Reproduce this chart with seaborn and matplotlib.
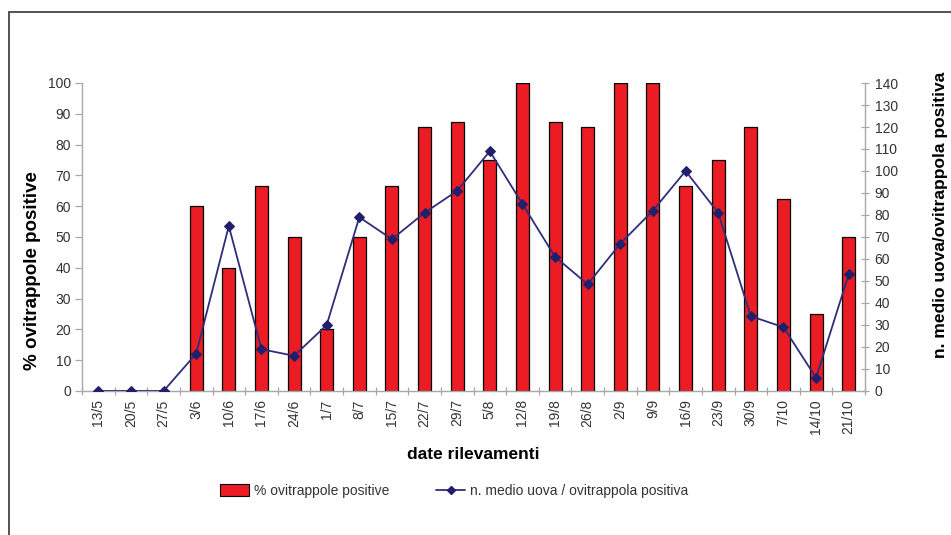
import numpy as np
import matplotlib
matplotlib.use("Agg")
import matplotlib.pyplot as plt
from matplotlib.lines import Line2D
from matplotlib.patches import Patch, Rectangle
import seaborn as sns
import pandas as pd

# Sampling dates (day/month)
dates = ["13/5", "20/5", "27/5", "3/6", "10/6", "17/6", "24/6", "1/7", "8/7",
         "15/7", "22/7", "29/7", "5/8", "12/8", "19/8", "26/8", "2/9", "9/9",
         "16/9", "23/9", "30/9", "7/10", "14/10", "21/10"]

# Percentage of positive ovitraps
pct_positive = [0, 0, 0, 60, 40, 66.7, 50, 20, 50, 66.7, 85.7, 87.5, 75, 100,
                87.5, 85.7, 100, 100, 66.7, 75, 85.7, 62.5, 25, 50]

# Mean number of eggs per positive ovitrap
mean_eggs = [0, 0, 0, 17, 75, 19, 16, 30, 79, 69, 81, 91, 109, 85, 61, 48.5,
             67, 82, 100, 81, 34, 29, 6, 53]

left_ticks = list(range(0, 101, 10))
right_ticks = list(range(0, 141, 10))

bar_color = "#EC1C24"
line_color = "#2E2E7A"
marker_color = "#1F1F6B"
axis_color = "#A8A8A8"
text_color = "#333333"

sns.set_theme(style="white")
plt.rcParams["font.family"] = ["Liberation Sans", "DejaVu Sans"]

fig = plt.figure(figsize=(9.51, 5.35), dpi=100)
fig.patch.set_facecolor("white")

# outer frame
fig.add_artist(Rectangle((9 / 951, -0.05), 1.1, 1 - 12 / 535 + 0.05,
                         transform=fig.transFigure, fill=False,
                         edgecolor="#444444", linewidth=1.3))

ax = fig.add_axes([82 / 951, 1 - 391 / 535, (865 - 82) / 951, (391 - 83) / 535])

df = pd.DataFrame({"data": dates, "pct": pct_positive, "uova": mean_eggs})

sns.barplot(data=df, x="data", y="pct", order=dates, ax=ax, color=bar_color,
            saturation=1, width=0.4, edgecolor="black", linewidth=0.9)

ax.set_ylim(0, 100)
ax.set_xlim(-0.5, len(dates) - 0.5)
ax.set_yticks(left_ticks)
ax.set_yticklabels([str(t) for t in left_ticks], fontsize=10, color=text_color)
ax.set_xticks(np.arange(len(dates)))
ax.set_xticklabels(dates, rotation=90, fontsize=10, color=text_color)
ax.tick_params(axis="x", length=0, pad=6)
ax.tick_params(axis="y", length=5, width=0.9, color=axis_color, direction="out", pad=3, left=True)
# ticks between categories on the x axis
ax.set_xticks(np.arange(len(dates) + 1) - 0.5, minor=True)
ax.tick_params(axis="x", which="minor", length=6, width=0.9, color=axis_color,
               direction="inout", bottom=True)

for side in ["top", "right"]:
    ax.spines[side].set_visible(False)
for side in ["left", "bottom"]:
    ax.spines[side].set_color(axis_color)
    ax.spines[side].set_linewidth(1.0)

ax.set_xlabel("date rilevamenti", fontsize=12.5, fontweight="bold", color="black", labelpad=9)
ax.set_ylabel("% ovitrappole positive", fontsize=13.5, fontweight="bold", color="black",
              labelpad=5, y=0.39)

ax2 = ax.twinx()
sns.lineplot(x=np.arange(len(dates)), y=mean_eggs, ax=ax2, color=line_color,
             linewidth=1.3, marker="D", markersize=5, markerfacecolor=marker_color,
             markeredgecolor=marker_color, sort=False)
ax2.set_ylim(0, 140)
ax2.set_yticks(right_ticks)
ax2.set_yticklabels([str(t) for t in right_ticks], fontsize=10, color=text_color)
ax2.tick_params(axis="y", length=6, width=0.9, color=axis_color, direction="inout", pad=4, right=True)
for side in ["top", "left", "bottom"]:
    ax2.spines[side].set_visible(False)
ax2.spines["right"].set_color(axis_color)
ax2.spines["right"].set_linewidth(1.0)
ax2.set_ylabel("n. medio uova/ovitrappola positiva", fontsize=12.5, fontweight="bold",
               color="black", labelpad=25, y=0.571)
ax.set_xlim(-0.5, len(dates) - 0.5)

handles = [
    Patch(facecolor=bar_color, edgecolor="black", linewidth=0.8, label="% ovitrappole positive"),
    Line2D([0], [0], color=line_color, linewidth=1.3, marker="D", markersize=4,
           markerfacecolor=marker_color, markeredgecolor=marker_color,
           label="n. medio uova / ovitrappola positiva"),
]
fig.legend(handles=handles, loc="center", bbox_to_anchor=(454 / 951, 1 - 491 / 535), ncol=2,
           frameon=False, fontsize=10, handlelength=2.1, handleheight=0.9,
           columnspacing=3.4, handletextpad=0.3, labelcolor=text_color)

fig.savefig("out.png", dpi=100, facecolor="white")
